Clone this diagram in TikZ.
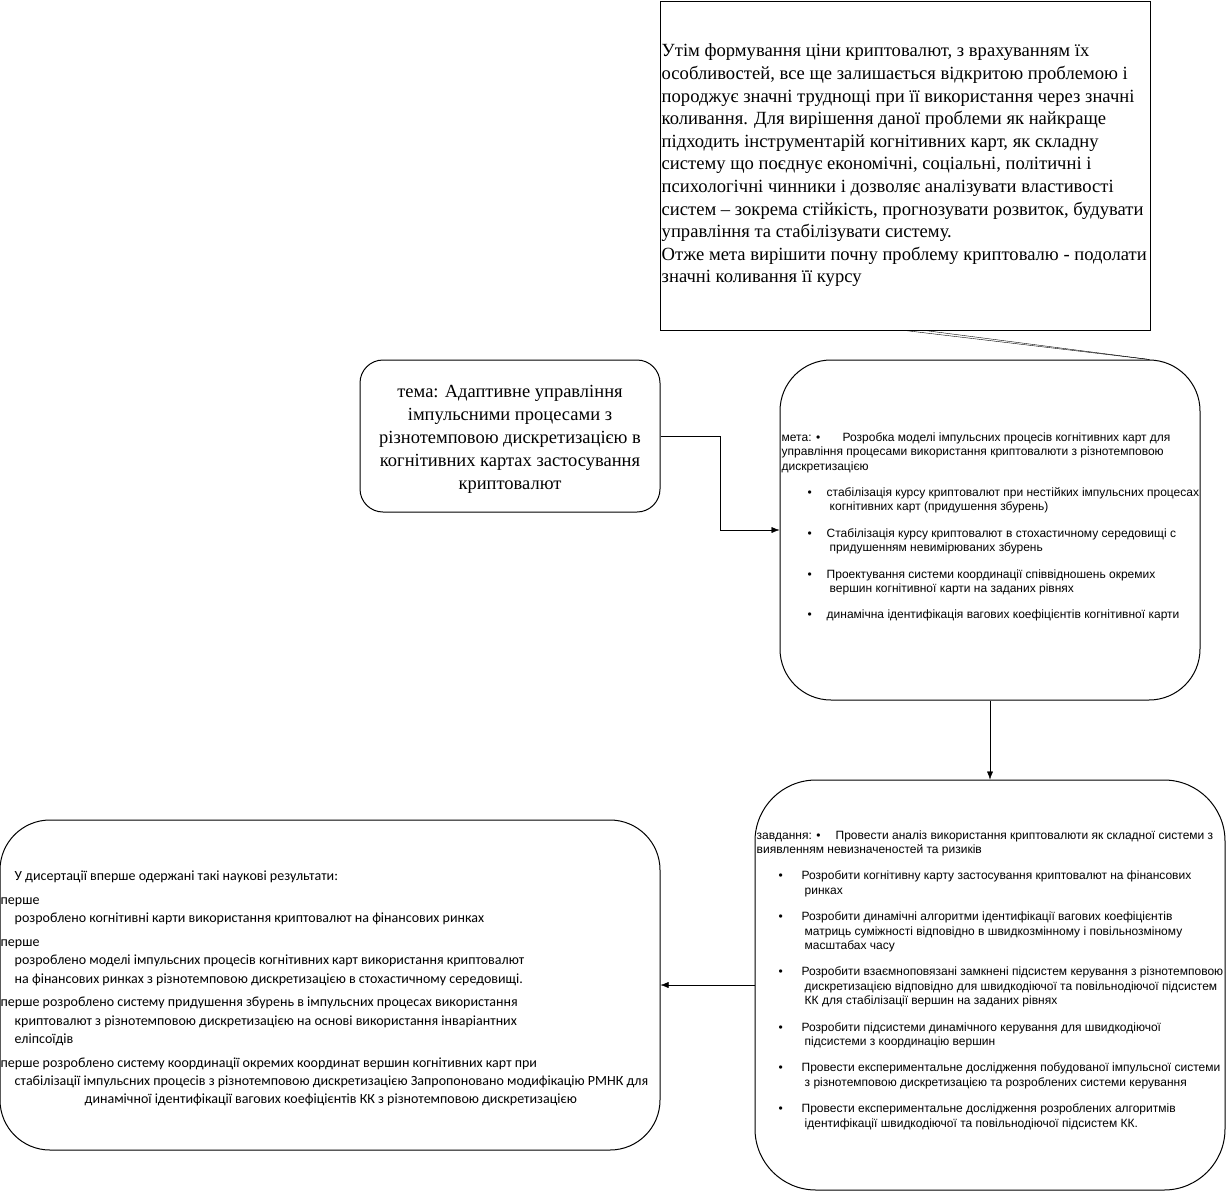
\documentclass[tikz,border=0pt]{standalone}
\usepackage{fontspec}
\setmainfont{Liberation Serif}
\newfontfamily\arialfont{Liberation Sans}
\newfontfamily\calibrifont{Carlito}
\usetikzlibrary{arrows.meta,calc}
\newcommand{\arrowtip}{-{Latex[length=8pt,width=6pt]}}
\newcommand{\itm}[1][26pt]{\hspace*{#1}\makebox[\dimexpr45pt-#1\relax][l]{•}}
\newcommand{\cnt}{\hspace*{48pt}}
\newcommand{\ind}{\hspace*{14pt}}

\begin{document}
\begin{tikzpicture}[x=1pt,y=-1pt,
  frame/.style={draw,line width=1pt,inner sep=0pt},
  txt/.style={anchor=west,align=left,inner sep=0pt}]
\useasboundingbox (0,0) rectangle (1227,1192);
%boxes
\node[frame,minimum width=490,minimum height=329] (note) at (905,165.5) {};
\node[frame,rounded corners=23,minimum width=300,minimum height=152] (tema) at (510,436) {};
\node[frame,rounded corners=51,minimum width=420,minimum height=340] (meta) at (990,530) {};
\node[frame,rounded corners=61,minimum width=470,minimum height=410] (tasks) at (990,985) {};
\node[frame,rounded corners=50,minimum width=660,minimum height=330] (results) at (330,985) {};
%texts
\node[txt,font=\fontsize{18.6}{22.6}\selectfont] (notetext) at ($(note.west)+(2,0)$) {%
Утім формування ціни криптовалют, з врахуванням їх\\
особливостей, все ще залишається відкритою проблемою і\\
породжує значні труднощі при її використання через значні\\
коливання. Для вирішення даної проблеми як найкраще\\
підходить інструментарій когнітивних карт, як складну\\
систему що поєднує економічні, соціальні, політичні і\\
психологічні чинники і дозволяє аналізувати властивості\\
систем – зокрема стійкість, прогнозувати розвиток, будувати\\
управління та стабілізувати систему.\\
Отже мета вирішити почну проблему криптовалю - подолати\\
значні коливання її курсу};
\node[align=center,inner sep=0pt,font=\fontsize{18.5}{23}\selectfont] (tematext) at ($(tema)+(0,3)$) {%
тема: Адаптивне управління\\
імпульсними процесами з\\
різнотемповою дискретизацією в\\
когнітивних картах застосування\\
криптовалют};
\node[txt,font=\arialfont\fontsize{12}{14.4}\selectfont] (metatext) at ($(meta.west)+(2,-3)$) {%
\makebox[61pt][l]{мета: •}Розробка моделі імпульсних процесів когнітивних карт для\\
управління процесами використання криптовалюти з різнотемповою\\
дискретизацією\\[12pt]
\itm стабілізація курсу криптовалют при нестійких імпульсних процесах\\
\cnt когнітивних карт (придушення збурень)\\[12pt]
\itm Стабілізація курсу криптовалют в стохастичному середовищі с\\
\cnt придушенням невимірюваних збурень\\[12pt]
\itm Проектування системи координації співвідношень окремих\\
\cnt вершин когнітивної карти на заданих рівнях\\[12pt]
\itm динамічна ідентифікація вагових коефіцієнтів когнітивної карти};
\node[txt,font=\arialfont\fontsize{12}{14.4}\selectfont] (taskstext) at ($(tasks.west)+(2,-5)$) {%
\makebox[79pt][l]{завдання: •}Провести аналіз використання криптовалюти як складної системи з\\
виявленням невизначеностей та ризиків\\[12pt]
\itm[22pt]Розробити когнітивну карту застосування криптовалют на фінансових\\
\cnt ринках\\[12pt]
\itm[22pt]Розробити динамічні алгоритми ідентифікації вагових коефіцієнтів\\
\cnt матриць суміжності відповідно в швидкозмінному і повільнозміному\\
\cnt масштабах часу\\[12pt]
\itm[22pt]Розробити взаємноповязані замкнені підсистем керування з різнотемповою\\
\cnt дискретизацією відповідно для швидкодіючої та повільнодіючої підсистем\\
\cnt КК для стабілізації вершин на заданих рівнях\\[12pt]
\itm[22pt]Розробити підсистеми динамічного керування для швидкодіючої\\
\cnt підсистеми з координацію вершин\\[12pt]
\itm[22pt]Провести експериментальне дослідження побудованої імпульсної системи\\
\cnt з різнотемповою дискретизацією та розроблених системи керування\\[12pt]
\itm[22pt]Провести експериментальне дослідження розроблених алгоритмів\\
\cnt ідентифікації швидкодіючої та повільнодіючої підсистем КК.};
\node[txt,font=\calibrifont\fontsize{14}{18.3}\selectfont] (resultstext) at ($(results.west)+(1,3.5)$) {%
\ind У дисертації вперше одержані такі наукові результати:\\[5.5pt]
перше\\
\ind розроблено когнітивні карти використання криптовалют на фінансових ринках\\[5.5pt]
перше\\
\ind розроблено моделі імпульсних процесів когнітивних карт використання криптовалют\\
\ind на фінансових ринках з різнотемповою дискретизацією в стохастичному середовищі.\\[5.5pt]
перше розроблено систему придушення збурень в імпульсних процесах використання\\
\ind криптовалют з різнотемповою дискретизацією на основі використання інваріантних\\
\ind еліпсоїдів\\[5.5pt]
перше розроблено систему координації окремих координат вершин когнітивних карт при\\
\ind стабілізації імпульсних процесів з різнотемповою дискретизацією Запропоновано модифікацію РМНК для\\
\hspace*{84pt}динамічної ідентифікації вагових коефіцієнтів КК з різнотемповою дискретизацією};
%connectors
\coordinate (tail) at ($(meta.north east)+(-51,0)$);
\draw (note.south) -- (tail);
\draw ($(note.south)+(20,0)$) -- (tail);
\draw[\arrowtip] (tema.east) -- ++(60,0) |- (meta.west);
\draw[\arrowtip] (meta.south) -- (tasks.north);
\draw[\arrowtip] (tasks.west) -- (results.east);
\end{tikzpicture}
\end{document}
